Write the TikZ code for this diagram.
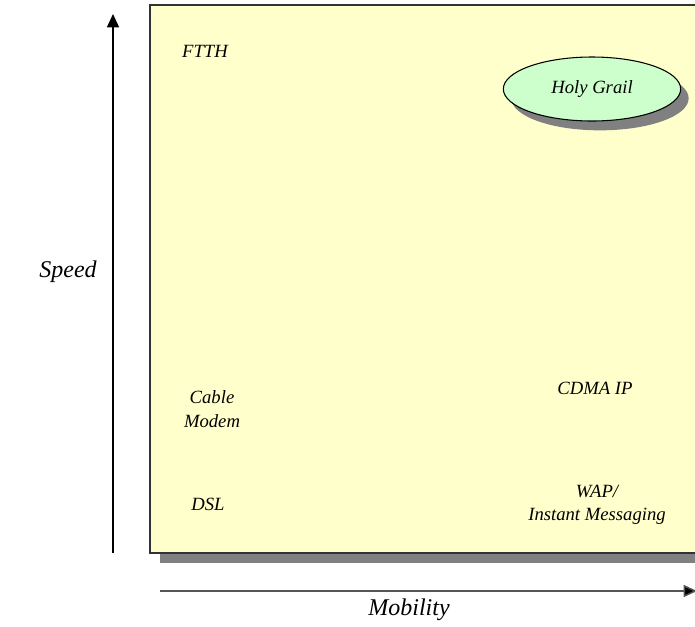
\documentclass[tikz,border=0pt]{standalone}
\usepackage{fontspec}
\setmainfont{Liberation Serif}
\usepackage{tikz}
\usetikzlibrary{arrows.meta,positioning,shapes.geometric,shadows}
\definecolor{paneyellow}{HTML}{FFFFCC}
\definecolor{grailgreen}{HTML}{CCFFCC}
\definecolor{shadowgray}{HTML}{808080}
\definecolor{edgedark}{HTML}{333333}
\definecolor{axisgray}{HTML}{555555}
\tikzset{
  tag/.style={align=center, font=\fontsize{14}{17.5}\selectfont\itshape, inner sep=0pt},
  axislabel/.style={font=\fontsize{18}{21}\selectfont\itshape, inner sep=0pt},
  grail/.style={
    ellipse, draw=black, thick, fill=grailgreen,
    minimum width=133pt, minimum height=48pt, inner sep=0pt,
    drop shadow={shadow xshift=6pt, shadow yshift=-7pt, fill=shadowgray, opacity=1},
    font=\fontsize{14}{17.5}\selectfont\itshape
  },
  axisarrow/.style={-{Triangle[length=10pt,width=9pt]}, line width=1.1pt},
}
\begin{document}
\begin{tikzpicture}[x=0.75pt, y=-0.75pt]
  \useasboundingbox (0,0) rectangle (695,626);
  \clip (0,0) rectangle (695,626);
  % pane with its shadow
  \fill[shadowgray] (160,15) rectangle (710,563);
  \draw[edgedark, line width=1.1pt, fill=paneyellow] (150,5) rectangle (710,553);

  \node[tag] (ftth) at (205,51) {FTTH};
  \node[grail] (holy) at (592,89) {Holy Grail};
  \node[tag] (cable) at (212,409) {Cable\\Modem};
  \node[tag] (dsl) at (208,504) {DSL};
  \node[tag] (cdma) at (595,388) {CDMA IP};
  \node[tag] (wap) at (597,505) {WAP/\\Instant Messaging};

  % axes
  \coordinate (ybot) at (113,553);
  \coordinate (ytop) at (113,14);
  \coordinate (xleft) at (160,591);
  \coordinate (xright) at (697,591);
  \draw[axisarrow, black] (ybot) -- (ytop);
  \draw[axisarrow, axisgray, -{Triangle[length=10pt,width=9pt,fill=black]}] (xleft) -- (xright);

  \node[axislabel] (speed) at (68,272) {Speed};
  \node[axislabel] (mobility) at (409,610) {Mobility};
\end{tikzpicture}
\end{document}
